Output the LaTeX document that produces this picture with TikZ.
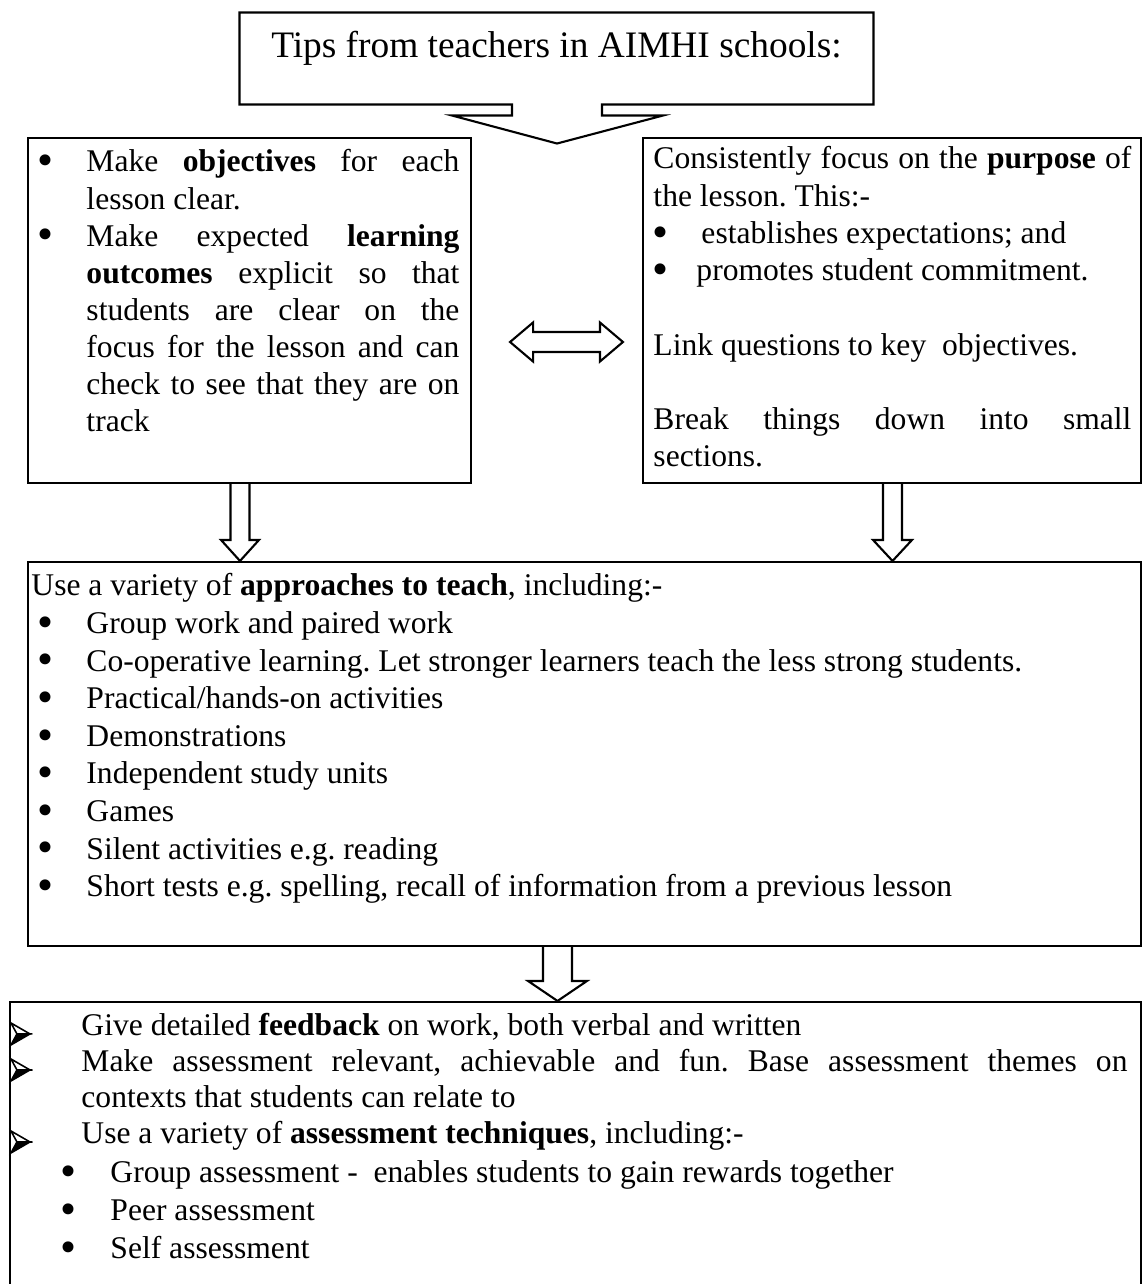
\documentclass[tikz,border=0pt]{standalone}
\usepackage{fontspec}
\usepackage{graphicx}
\setmainfont{Liberation Serif}
\usetikzlibrary{calc}
\frenchspacing

% one drawing unit
\newlength\px
\setlength\px{0.38pt}

% rows of text inside the boxes
\newcommand\plainrow[2]{\hbox{\hspace*{#1\px}#2}}
\newcommand\justrow[3]{\hbox{\hspace*{#1\px}\makebox[#2\px][s]{#3}}}
\newcommand\bigdot{\raisebox{-0.12em}{\scalebox{1.45}{\textbullet}}}
\newcommand\dotrow[3]{\hbox{\hspace*{#1\px}\makebox[\dimexpr#2\px-#1\px\relax][l]{\bigdot}#3}}
\newcommand\dotjustrow[4]{\hbox{\hspace*{#1\px}\makebox[\dimexpr#2\px-#1\px\relax][l]{\bigdot}\makebox[#3\px][s]{#4}}}

% hollow block arrow pointing down: top, tip, shaft half width, head half width, head length
\newcommand\blockdown[5]{%
  \draw[blockarrow] ($#1+(-#3,0)$) -- ($#2+(-#3,-#5)$) -- ($#2+(-#4,-#5)$) -- #2
    -- ($#2+(#4,-#5)$) -- ($#2+(#3,-#5)$) -- ($#1+(#3,0)$);}

\tikzset{
  frame/.style={draw, line width=0.8pt, rectangle, inner sep=0pt},
  blockarrow/.style={draw, line width=0.8pt, fill=white, line join=miter},
  txt/.style={inner sep=0pt, anchor=base west, font=\fontsize{12pt}{14.1pt}\selectfont},
  arrowbullet/.pic={
    \filldraw[fill=white, line width=0.6pt, line join=miter] (0,-13) -- (19,-2) -- (6,-2) -- cycle;
    \filldraw[line width=0.6pt, line join=miter] (6,-2) -- (19,-2) -- (0,9) -- cycle;
  }
}

\begin{document}
\begin{tikzpicture}[x=0.38pt, y=-0.38pt]
\useasboundingbox (0,0) rectangle (1144,1284);

% callout heading
\node[inner sep=0pt, minimum width=633\px, minimum height=91\px] (tips) at (556.5,58.5) {};
\draw[line width=0.8pt, line join=miter] (tips.north west) -- (tips.north east) -- (tips.south east)
  -- ($(tips.south)+(45.5,0)$) -- ($(tips.south)+(45.5,11)$) -- ($(tips.south)+(106.5,11)$)
  -- ($(tips.south)+(0.5,39)$) -- ($(tips.south)+(-104.5,11)$) -- ($(tips.south)+(-44.5,11)$)
  -- ($(tips.south)+(-44.5,0)$) -- (tips.south west) -- cycle;
\node[anchor=base, inner sep=0pt, font=\fontsize{14.2pt}{17pt}\selectfont] (tipstext)
  at ($(tips.north)+(0,45)$) {Tips from teachers in AIMHI schools:};

% boxes
\node[frame, minimum width=443\px, minimum height=345\px] (lbox) at (249.5,310.5) {};
\node[frame, minimum width=498\px, minimum height=345\px] (rbox) at (892,310.5) {};
\node[frame, minimum width=1113\px, minimum height=384\px] (abox) at (584.5,754) {};
\node[frame, minimum width=1131\px, minimum height=298\px] (fbox) at (575.5,1151) {};

% objectives
\node[txt] (ltext) at ($(lbox.north west)+(0,35)$) {\parbox[t]{443\px}{\baselineskip=37.1\px
\dotjustrow{10}{59}{373}{Make \textbf{objectives} for each}
\plainrow{59}{lesson clear.}
\dotjustrow{10}{59}{373}{Make expected \textbf{learning}}
\justrow{59}{373}{\textbf{outcomes} explicit so that}
\justrow{59}{373}{students are clear on the}
\justrow{59}{373}{focus for the lesson and can}
\justrow{59}{373}{check to see that they are on}
\plainrow{59}{track}}};

% purpose
\node[txt] (rtext) at ($(rbox.north west)+(0,32)$) {\parbox[t]{498\px}{\baselineskip=37.25\px
\justrow{11}{478}{Consistently focus on the \textbf{purpose} of}
\plainrow{11}{the lesson. This:-}
\dotrow{10}{59}{establishes expectations; and}
\dotrow{10}{54}{promotes student commitment.}
\hbox{}
\plainrow{11}{Link questions to key\ \ objectives.}
\hbox{}
\justrow{11}{478}{Break things down into small}
\plainrow{11}{sections.}}};

% approaches
\node[txt] (atext) at ($(abox.north west)+(0,35)$) {\parbox[t]{1113\px}{\baselineskip=37.6\px
\plainrow{4}{Use a variety of \textbf{approaches to teach}, including:-}
\dotrow{10}{59}{Group work and paired work}
\dotrow{10}{59}{Co-operative learning. Let stronger learners teach the less strong students.}
\dotrow{10}{59}{Practical/hands-on activities}
\dotrow{10}{59}{Demonstrations}
\dotrow{10}{59}{Independent study units}
\dotrow{10}{59}{Games}
\dotrow{10}{59}{Silent activities e.g. reading}
\dotrow{10}{59}{Short tests e.g. spelling, recall of information from a previous lesson}}};

% feedback and assessment
\node[txt] (ftext) at ($(fbox.north west)+(0,35)$) {\parbox[t]{1131\px}{\baselineskip=36\px
\plainrow{72}{Give detailed \textbf{feedback} on work, both verbal and written}
\justrow{72}{1046}{Make assessment relevant, achievable and fun. Base assessment themes on}
\plainrow{72}{contexts that students can relate to}
\plainrow{72}{Use a variety of \textbf{assessment techniques}, including:-}
\baselineskip=38.3\px
\dotrow{51}{101}{Group assessment -\ \ enables students to gain rewards together}
\dotrow{51}{101}{Peer assessment}
\dotrow{51}{101}{Self assessment}}};
\foreach \dy in {0,36,108}
  \pic at ($(ftext.base west)+(2,\dy)$) {arrowbullet};

% double arrow between the two upper boxes
\coordinate (dl) at ($(lbox.east)+(38,31.5)$);
\coordinate (dr) at ($(rbox.west)+(-19,31.5)$);
\draw[blockarrow] (dl) -- ($(dl)+(23,-19.5)$) -- ($(dl)+(23,-10)$) -- ($(dr)+(-23,-10)$)
  -- ($(dr)+(-23,-19.5)$) -- (dr) -- ($(dr)+(-23,19.5)$) -- ($(dr)+(-23,10)$)
  -- ($(dl)+(23,10)$) -- ($(dl)+(23,19.5)$) -- cycle;

% downward arrows
\coordinate (a1top) at ($(lbox.south)+(-9.5,0)$);
\coordinate (a1tip) at (a1top |- abox.north);
\blockdown{(a1top)}{(a1tip)}{9.5}{19}{21}
\coordinate (a2top) at ($(rbox.south)+(0.5,0)$);
\coordinate (a2tip) at (a2top |- abox.north);
\blockdown{(a2top)}{(a2tip)}{9.5}{19.5}{21}
\coordinate (a3top) at ($(abox.south)+(-27,0)$);
\coordinate (a3tip) at (a3top |- fbox.north);
\blockdown{(a3top)}{(a3tip)}{14.5}{29.5}{20}
\end{tikzpicture}
\end{document}
